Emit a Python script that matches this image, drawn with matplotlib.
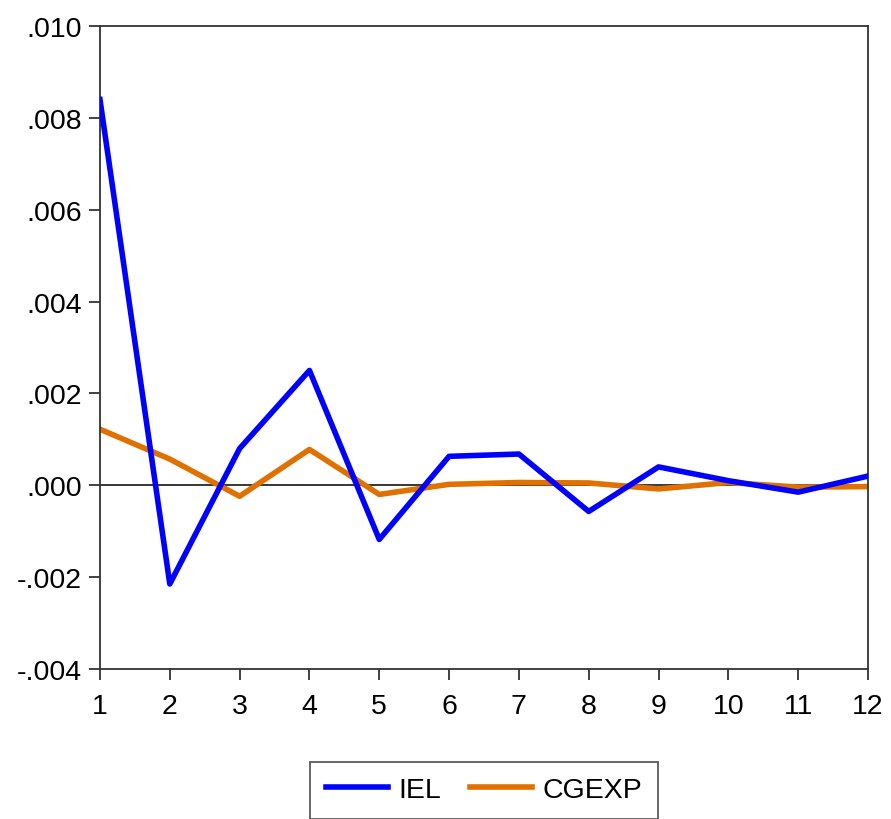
import numpy as np
import matplotlib.pyplot as plt

# periods and response values
periods = list(range(1, 13))
iel = [0.0084, -0.00215, 0.0008, 0.0025, -0.00118, 0.00063,
       0.00068, -0.00057, 0.0004, 0.0001, -0.00015, 0.0002]
cgexp = [0.00122, 0.00057, -0.00024, 0.00078, -0.0002, 0.00002,
         0.00006, 0.00005, -0.00008, 0.00006, -0.00004, -0.00003]
yticks = [-0.004, -0.002, 0.0, 0.002, 0.004, 0.006, 0.008, 0.010]
ytick_labels = ["-.004", "-.002", ".000", ".002", ".004", ".006", ".008", ".010"]

plt.rcParams["font.family"] = ["Liberation Sans", "DejaVu Sans"]

fig = plt.figure(figsize=(8.91, 8.2), dpi=100)
ax = fig.add_axes([0.1122, 0.183, 0.862, 0.784])

ax.axhline(0, color="black", linewidth=1.1, zorder=1)
ax.plot(periods, iel, color="#0000FF", linewidth=4.0, label="IEL", zorder=3)
ax.plot(periods, cgexp, color="#E07000", linewidth=4.0, label="CGEXP", zorder=2)

ax.set_xlim(1, 12)
ax.set_ylim(-0.004, 0.010)
ax.set_xticks(periods)
ax.set_yticks(yticks)
ax.set_yticklabels(ytick_labels)
ax.tick_params(direction="out", length=8, width=1.3, labelsize=20.5,
               color="#333333", pad=5)
ax.tick_params(axis="x", pad=9)
for s in ax.spines.values():
    s.set_linewidth(1.3)
    s.set_color("#333333")

leg = fig.legend(loc="upper center", bbox_to_anchor=(0.543, 0.07), ncol=2,
                 fontsize=20.5, frameon=True, fancybox=False, handlelength=2.2,
                 columnspacing=1.0, handletextpad=0.35, borderpad=0.55,
                 borderaxespad=0.0)
leg.get_frame().set_edgecolor("#333333")
leg.get_frame().set_linewidth(1.3)

fig.savefig("out.png", dpi=100)
